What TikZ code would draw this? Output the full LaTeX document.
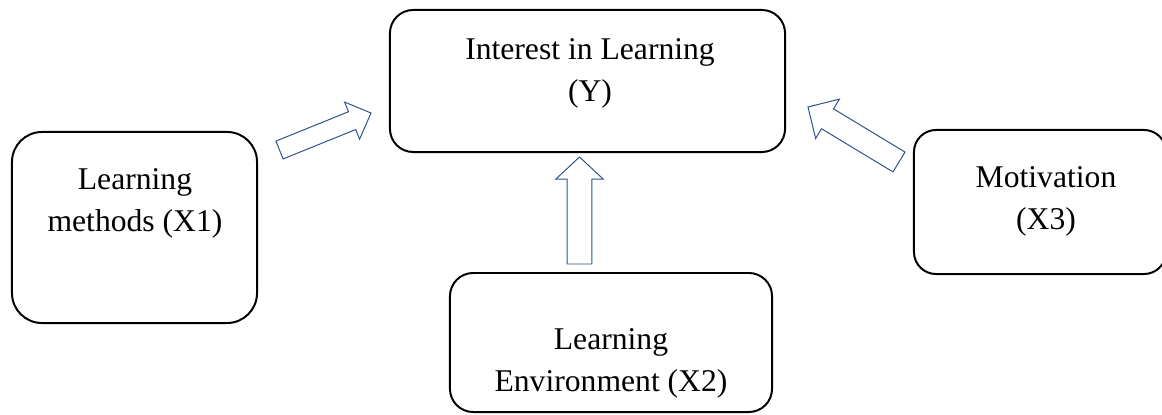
\documentclass[tikz,border=0pt]{standalone}
\usepackage{fontspec}
\setmainfont{Liberation Serif}
\usetikzlibrary{calc}
\definecolor{arrowblue}{RGB}{47,82,143}

\newcommand{\blockarrow}[5]{%
\coordinate (#2-base) at ($(#2)!#5!(#1)$);
\draw[hollowarrow] ($(#1)!#3!90:(#2)$) -- ($(#2-base)!#3!90:(#2)$) -- ($(#2-base)!#4!90:(#2)$) -- (#2) -- ($(#2-base)!#4!-90:(#2)$) -- ($(#2-base)!#3!-90:(#2)$) -- ($(#1)!#3!-90:(#2)$) -- cycle;
}

\begin{document}
\begin{tikzpicture}[x=0.025cm, y=-0.025cm,
  box/.style={draw = black, line width = 1.4pt, fill = white},
  lbl/.style={align = center, inner sep = 0pt, anchor = north, font = \fontsize{22.5}{29.5}\selectfont},
  hollowarrow/.style={draw = arrowblue, line width = 0.7pt, fill = white, line join = miter}]
\useasboundingbox (0, 0) rectangle (1162, 414);

\node[box, rounded corners = 0.58cm, minimum width = 9.875cm, minimum height = 3.55cm] (interest) at (587.5, 81) {};
\node[box, rounded corners = 0.75cm, minimum width = 6.125cm, minimum height = 4.775cm] (methods) at (134.5, 227.5) {};
\node[box, rounded corners = 0.58cm, minimum width = 8.05cm, minimum height = 3.475cm] (environment) at (611, 342.5) {};
\node[box, rounded corners = 0.55cm, minimum width = 6.3cm, minimum height = 3.6cm] (motivation) at (1040, 202) {};

\node[lbl] (interest-text) at (590, 38.5) {Interest in Learning\\(Y)};
\node[lbl] (methods-text) at (135, 168.5) {Learning\\methods (X1)};
\node[lbl] (environment-text) at (611, 328.5) {Learning\\Environment (X2)};
\node[lbl] (motivation-text) at (1046, 166.5) {Motivation\\(X3)};

\coordinate (a1s) at (279.5, 150);
\coordinate (a1e) at (371, 113);
\coordinate (a2s) at (579.5, 264);
\coordinate (a2e) at (579.5, 157);
\coordinate (a3s) at (899, 162);
\coordinate (a3e) at (808, 107);
\blockarrow{a1s}{a1e}{0.24cm}{0.5cm}{0.51cm}
\blockarrow{a2s}{a2e}{0.31cm}{0.59cm}{0.55cm}
\blockarrow{a3s}{a3e}{0.29cm}{0.575cm}{0.57cm}
\end{tikzpicture}
\end{document}
